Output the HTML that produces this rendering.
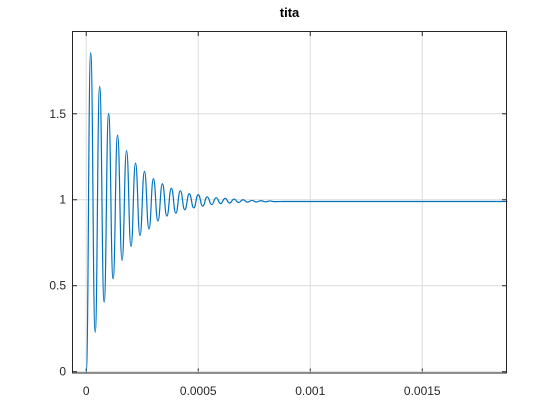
<!DOCTYPE html>
<html><head><meta charset="utf-8"><style>
html,body{margin:0;padding:0;background:#fff;}
svg{display:block;font-family:"Liberation Sans",Arial,sans-serif;}
</style></head><body>
<svg id="chart" width="560" height="419"></svg>
<script>
const xTicks=[0,0.0005,0.001,0.0015];
const xTickLabels=["0","0.0005","0.001","0.0015"];
const yTicks=[0,0.5,1,1.5];
const yTickLabels=["0","0.5","1","1.5"];
const tData=[0,0.00002,0.00004,0.00006,0.00008,0.0001,0.00012,0.00014,0.00016,0.00018,0.0002,0.00022,0.00024,0.00026,0.00028,0.0003,0.00032,0.00034,0.00036,0.00038,0.0004,0.00042,0.00044,0.00046,0.00048,0.0005,0.00052,0.00054,0.00056,0.00058,0.0006,0.00062,0.00064,0.00066,0.00068,0.0007,0.00072,0.00074,0.00076,0.00078,0.0008,0.00082,0.00084,0.00088,0.00188];
const thetaData=[0,1.855,0.23,1.659,0.405,1.5,0.54,1.376,0.647,1.286,0.728,1.213,0.792,1.165,0.83,1.122,0.876,1.093,0.905,1.067,0.922,1.052,0.942,1.035,0.953,1.029,0.963,1.017,0.972,1.012,0.978,1.008,0.981,1.004,0.984,1.0,0.986,0.996,0.987,0.994,0.988,0.993,0.989,0.99,0.99];
const NS="http://www.w3.org/2000/svg";
const svg=document.getElementById('chart');
const L=72.5,R=506.5,T=31.5,B=373;
const xMin=-0.0000612,xMax=0.001876,yMin=-0.0076,yMax=1.9785;
const xs=v=>L+(v-xMin)/(xMax-xMin)*(R-L);
const ys=v=>B-(v-yMin)/(yMax-yMin)*(B-T);
function mk(tag,attrs){const e=document.createElementNS(NS,tag);for(const k in attrs)e.setAttribute(k,attrs[k]);svg.appendChild(e);return e;}
const bg=mk('rect',{x:L,y:T,width:R-L,height:B-T,fill:'#fff'});


xTicks.forEach((v,i)=>{
  const x=xs(v);
  const g=mk('line',{x1:x,x2:x,y1:T,y2:B,stroke:'#dcdcdc','stroke-width':1});
  
  
  const t1=mk('line',{x1:x,x2:x,y1:B,y2:B-4.5,stroke:'#262626','stroke-width':1});
  
  
  const t2=mk('line',{x1:x,x2:x,y1:T,y2:T+4.5,stroke:'#262626','stroke-width':1});
  
  
  const tx=mk('text',{x:x,y:395,'text-anchor':'middle','font-size':12,fill:'#262626'});
  tx.textContent=xTickLabels[i];
  
  
});
yTicks.forEach((v,i)=>{
  const y=ys(v);
  const g=mk('line',{x1:L,x2:R,y1:y,y2:y,stroke:'#dcdcdc','stroke-width':1});
  
  
  const t1=mk('line',{x1:L,x2:L+4.5,y1:y,y2:y,stroke:'#262626','stroke-width':1});
  
  
  const t2=mk('line',{x1:R,x2:R-4.5,y1:y,y2:y,stroke:'#262626','stroke-width':1});
  
  
  const tx=mk('text',{x:66,y:y+4,'text-anchor':'end','font-size':12,fill:'#262626'});
  tx.textContent=yTickLabels[i];
  
  
});
let d='M'+xs(tData[0])+' '+ys(thetaData[0]);
for(let i=1;i<tData.length;i++){
  const x0=xs(tData[i-1]),x1=xs(tData[i]),y0=ys(thetaData[i-1]),y1=ys(thetaData[i]);
  const m=(x0+x1)/2;
  d+=` C${m} ${y0} ${m} ${y1} ${x1} ${y1}`;
}
const line=mk('path',{d:d,fill:'none',stroke:'#0072bd','stroke-width':1.2});


const box=mk('rect',{x:L,y:T,width:R-L,height:B-T,fill:'none',stroke:'#262626','stroke-width':1});


const title=mk('text',{x:289.5,y:17,'text-anchor':'middle','font-size':13,'font-weight':'bold',fill:'#000'});
title.textContent='tita';


</script>
</body></html>
